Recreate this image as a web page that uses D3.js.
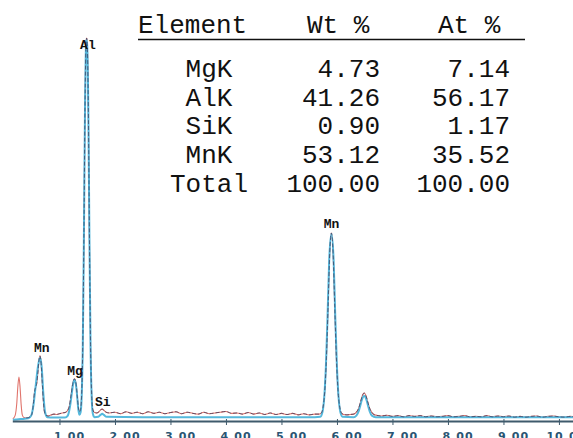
<!DOCTYPE html>
<html>
<head>
<meta charset="utf-8">
<script src="https://cdn.jsdelivr.net/npm/d3@7"></script>
<style>
  body { margin: 0; background: #fff; }
  svg { display: block; }
  .cell { font-family: 'Liberation Mono', 'Courier New', monospace; font-size: 26px; fill: #111; }
  .peak-label { font-family: 'Liberation Mono', 'Courier New', monospace; font-size: 13px; font-weight: bold; fill: #111; }
  .tick text { font-family: 'DejaVu Sans', sans-serif; font-size: 11px; font-weight: bold; fill: #2a5573; letter-spacing: 1px; }
</style>
</head>
<body>
<svg width="573" height="438"></svg>
<script>
// quantification table
const elements = ['MgK', 'AlK', 'SiK', 'MnK', 'Total']
const wtPercent = [4.73, 41.26, 0.90, 53.12, 100.00]
const atPercent = [7.14, 56.17, 1.17, 35.52, 100.00]
const headers = ['Element', 'Wt %', 'At %']

// energy axis ticks (keV)
const tickValues = [1, 2, 3, 4, 5, 6, 7, 8, 9, 10]

// peak labels [keV, counts above which the label sits]
const peakLabels = [
  { name: 'Mn', e: 0.70, c: 172 },
  { name: 'Mg', e: 1.30, c: 112 },
  { name: 'Al', e: 1.53, c: 963 },
  { name: 'Si', e: 1.80, c: 32 },
  { name: 'Mn', e: 5.92, c: 497 }
]

// measured spectrum [keV, counts]
const measured = [
  [0.16, 6], [0.20, 14], [0.23, 45], [0.25, 90], [0.27, 115], [0.29, 88], [0.31, 42],
  [0.33, 16], [0.36, 9], [0.40, 8], [0.44, 9], [0.48, 12], [0.51, 22], [0.53, 45],
  [0.55, 75], [0.57, 88], [0.59, 98], [0.61, 125], [0.63, 158], [0.65, 170], [0.67, 150],
  [0.69, 100], [0.71, 52], [0.73, 24], [0.76, 15], [0.80, 13], [0.85, 16], [0.90, 18],
  [0.95, 17], [1.00, 19], [1.05, 21], [1.10, 22], [1.14, 26], [1.18, 40], [1.21, 68],
  [1.24, 98], [1.27, 110], [1.30, 96], [1.32, 66], [1.34, 36], [1.36, 24], [1.38, 30],
  [1.40, 70], [1.42, 200], [1.44, 480], [1.46, 820], [1.48, 990], [1.49, 1000], [1.50, 985],
  [1.52, 820], [1.54, 480], [1.56, 200], [1.58, 70], [1.60, 30], [1.63, 22], [1.67, 21],
  [1.71, 24], [1.74, 29], [1.77, 31], [1.80, 28], [1.84, 23], [1.90, 21],
  [2.0, 23], [2.1, 19], [2.2, 24], [2.3, 20], [2.4, 23], [2.5, 19], [2.6, 24], [2.7, 20],
  [2.8, 23], [2.9, 19], [3.0, 22], [3.1, 24], [3.2, 19], [3.3, 23], [3.4, 20], [3.5, 18],
  [3.6, 23], [3.7, 19], [3.8, 21], [3.9, 23], [4.0, 25], [4.1, 20], [4.2, 21], [4.3, 18],
  [4.4, 22], [4.5, 18], [4.6, 21], [4.7, 17], [4.8, 21], [4.9, 17], [5.0, 20], [5.1, 17],
  [5.2, 20], [5.3, 16], [5.4, 19], [5.5, 16], [5.6, 18], [5.68, 18],
  [5.72, 21], [5.75, 36], [5.78, 78], [5.81, 165], [5.84, 300], [5.87, 440], [5.90, 491],
  [5.93, 440], [5.96, 300], [5.99, 165], [6.02, 78], [6.05, 36], [6.08, 21], [6.12, 17],
  [6.18, 16], [6.24, 17], [6.30, 18], [6.35, 23], [6.39, 33], [6.42, 47], [6.45, 63],
  [6.49, 73], [6.53, 63], [6.56, 47], [6.59, 33], [6.63, 22], [6.68, 16], [6.75, 14],
  [6.8, 13], [6.9, 15], [7.0, 12], [7.1, 14], [7.2, 11], [7.3, 14], [7.4, 12], [7.5, 14],
  [7.6, 11], [7.7, 13], [7.8, 11], [7.9, 12], [8.0, 14], [8.1, 11], [8.2, 12], [8.3, 14],
  [8.4, 11], [8.5, 12], [8.6, 11], [8.7, 14], [8.8, 11], [8.9, 13], [9.0, 11], [9.1, 13],
  [9.2, 10], [9.3, 12], [9.4, 10], [9.5, 12], [9.6, 13], [9.7, 10], [9.8, 12], [9.9, 13],
  [10.0, 11], [10.1, 10], [10.2, 12], [10.3, 11]
]

// fitted spectrum [keV, counts]
const fitted = [
  [0.16, 3], [0.30, 5], [0.44, 7], [0.49, 14], [0.53, 40], [0.57, 90], [0.61, 140],
  [0.65, 166], [0.68, 140], [0.71, 70], [0.74, 24], [0.78, 10], [0.90, 9], [1.10, 9],
  [1.15, 14], [1.19, 38], [1.22, 70], [1.25, 100], [1.27, 108], [1.30, 92], [1.32, 62],
  [1.34, 30], [1.36, 16], [1.38, 22], [1.40, 64], [1.42, 194], [1.44, 474], [1.46, 812],
  [1.48, 985], [1.49, 995], [1.50, 980], [1.52, 812], [1.54, 474], [1.56, 194], [1.58, 64],
  [1.60, 20], [1.63, 10], [1.70, 11], [1.74, 16], [1.77, 19], [1.80, 16], [1.85, 11],
  [2.5, 10], [4.0, 10], [5.6, 10], [5.70, 11], [5.74, 24], [5.77, 60], [5.80, 140],
  [5.83, 270], [5.86, 420], [5.90, 488], [5.94, 420], [5.97, 270], [6.00, 140], [6.03, 60],
  [6.06, 24], [6.10, 11], [6.30, 10], [6.35, 14], [6.39, 25], [6.42, 40], [6.45, 56],
  [6.49, 65], [6.53, 56], [6.56, 40], [6.59, 25], [6.63, 14], [6.70, 10], [10.3, 10]
]

const svg = d3.select('svg')

const x = d3.scaleLinear()
  .domain([0.15, 10.3])
  .range([12.3, 575.6])

const y = d3.scaleLinear()
  .domain([0, 1000])
  .range([421, 38])

const line = d3.line()
  .x(d => x(d[0]))
  .y(d => y(d[1]))
  .curve(d3.curveMonotoneX)

// spectra
svg.append('path')
  .attr('d', line(measured))
  .attr('fill', 'none')
  .attr('stroke', '#e0746c')
  .attr('stroke-width', 1.1)

svg.append('path')
  .attr('d', line(fitted))
  .attr('fill', 'none')
  .attr('stroke', '#55b8dc')
  .attr('stroke-width', 2)

svg.append('path')
  .attr('d', line(measured.filter(d => d[0] >= 0.4)))
  .attr('fill', 'none')
  .attr('stroke', '#3c3c5c')
  .attr('stroke-width', 1)
  .attr('stroke-dasharray', '4,2')
  .attr('opacity', 0.75)

// peak labels
svg.selectAll('.peak-label')
  .data(peakLabels)
  .join('text')
  .attr('class', 'peak-label')
  .attr('x', d => x(d.e) - 1)
  .attr('y', d => y(d.c) - 3)
  .attr('text-anchor', 'middle')
  .text(d => d.name)

// energy axis
const xAxis = d3.axisBottom(x)
  .tickValues(tickValues)
  .tickFormat(d3.format('.2f'))
  .tickSizeInner(4)
  .tickSizeOuter(0)
  .tickPadding(8)

const axisGroup = svg.append('g')
  .attr('transform', `translate(0, ${y(0)})`)
  .call(xAxis)

axisGroup.select('.domain')
  .attr('stroke', '#3f5a6c')
  .attr('stroke-width', 2)

axisGroup.selectAll('.tick line')
  .attr('y1', -2)
  .attr('stroke', '#3f5a6c')

axisGroup.selectAll('.tick text')
  .attr('text-anchor', 'start')
  .attr('dx', d => d >= 10 ? -13 : -6)
  .attr('dy', '0.62em')

// quantification table
const colRight = [null, 380, 510]
const rowY = i => 77 + i * 28.7

const table = svg.append('g')

table.selectAll('.header')
  .data(headers)
  .join('text')
  .attr('class', 'cell header')
  .attr('x', (d, i) => [138, 307, 438][i])
  .attr('y', 33)
  .text(d => d)

table.append('line')
  .attr('x1', 138)
  .attr('x2', 525)
  .attr('y1', 39.5)
  .attr('y2', 39.5)
  .attr('stroke', '#111')
  .attr('stroke-width', 1.6)

table.selectAll('.el')
  .data(elements)
  .join('text')
  .attr('class', 'cell el')
  .attr('x', 209)
  .attr('y', (d, i) => rowY(i))
  .attr('text-anchor', 'middle')
  .text(d => d)

table.selectAll('.wt')
  .data(wtPercent)
  .join('text')
  .attr('class', 'cell wt')
  .attr('x', colRight[1])
  .attr('y', (d, i) => rowY(i))
  .attr('text-anchor', 'end')
  .text(d => d.toFixed(2))

table.selectAll('.at')
  .data(atPercent)
  .join('text')
  .attr('class', 'cell at')
  .attr('x', colRight[2])
  .attr('y', (d, i) => rowY(i))
  .attr('text-anchor', 'end')
  .text(d => d.toFixed(2))
</script>
</body>
</html>
